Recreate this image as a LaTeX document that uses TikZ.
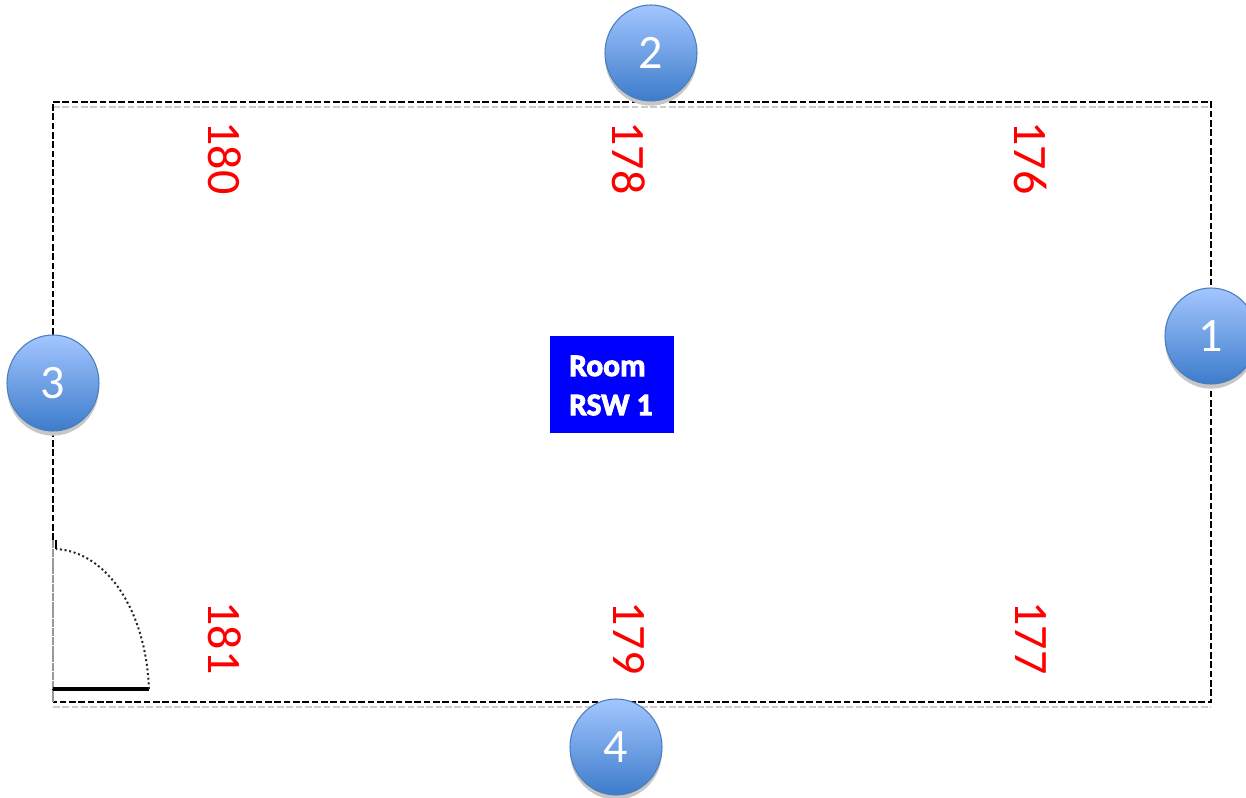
\documentclass[tikz,border=0pt]{standalone}
\usepackage{fontspec}
\setmainfont{Carlito}
\usetikzlibrary{shapes.geometric,shadows}
\tikzset{
    marker/.style={
           ellipse,
           draw=markerline, thick,
           top color=markertop,
           bottom color=markerbottom,
           minimum width=69pt,
           minimum height=72pt,
           inner sep=0pt,
           text=white,
           font=\fontsize{36}{36}\selectfont,
           drop shadow={shadow xshift=0pt, shadow yshift=-3.5pt, fill=black!22, opacity=1},
           },
    sensor/.style={
           rotate=-90,
           text=red,
           inner sep=0pt,
           font=\fontsize{36}{36}\selectfont,
           },
    wall/.style={
           dashed,
           dash pattern=on 5pt off 2pt,
           line width=1.4pt,
           },
    roomtext/.style={
           anchor=west,
           text=white,
           inner sep=0pt,
           font=\fontsize{23.5}{24}\selectfont\bfseries\addfontfeature{FakeBold=3},
           },
}
\definecolor{markertop}{HTML}{A3C6FF}
\definecolor{markerbottom}{HTML}{3D7CCB}
\definecolor{markerline}{HTML}{4A7EBB}
\definecolor{roomblue}{HTML}{0000FF}

\begin{document}
\begin{tikzpicture}[x=0.75pt,y=-0.75pt]
\useasboundingbox (0,0) rectangle (1246,798);
% Room outline with its pale copy below
\path[wall, draw=black!20] (53,107) -- (1211,107);
\path[wall, draw=black!20] (53,707) -- (1211,707);
\coordinate (NW) at (53,102);
\coordinate (NE) at (1211,102);
\coordinate (SE) at (1211,702);
\coordinate (SW) at (53,702);
\draw[wall] (NW) -- (NE) -- (SE) -- (SW);
\draw[wall] (SW) -- ++(0,-16);
\draw[wall] (53,540) -- (NW);
% Door
\coordinate (HINGE) at (53,689);
\coordinate (LEAF) at (149,689);
\coordinate (JAMB) at (56,549);
\draw[black!40, line width=0.8pt, dashed, dash pattern=on 6pt off 0.6pt] (53,540) -- (53,702);
\draw[line width=2.4pt] (HINGE) -- (LEAF);
\draw[line width=2pt] (56,540) -- (JAMB);
\draw[line width=1.5pt, dotted, black!85] (LEAF) .. controls (146,612) and (108,552) .. (JAMB);
% Room label
\node[fill=roomblue, minimum width=93pt, minimum height=72.75pt, inner sep=0pt] (ROOM) at (612,384.5) {};
\node[roomtext] (ROOMA) at (569,366) {Room};
\node[roomtext] (ROOMB) at (569,405) {RSW 1};
% Sensors top row
\node[sensor] (S180) at (225,158) {180};
\node[sensor] (S178) at (629,158) {178};
\node[sensor] (S176) at (1031,158) {176};
% Sensors bottom row
\node[sensor] (S181) at (225,638) {181};
\node[sensor] (S179) at (629,638) {179};
\node[sensor] (S177) at (1031,638) {177};
% Numbered markers
\node[marker] (M1) at (1211,336) {1};
\node[marker] (M2) at (651,53) {2};
\node[marker] (M3) at (53,383) {3};
\node[marker] (M4) at (616,747) {4};
\end{tikzpicture}
\end{document}
